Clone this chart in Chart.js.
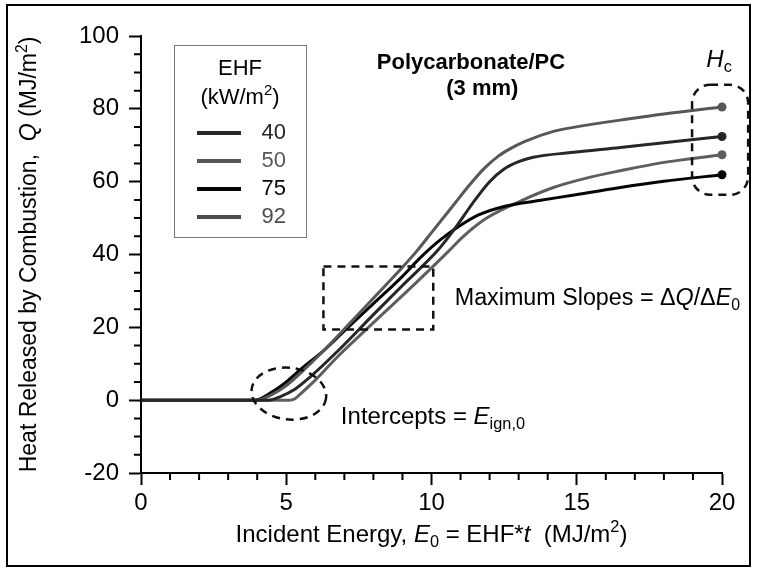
<!DOCTYPE html>
<html lang="en">
<head>
<meta charset="UTF-8">
<title>Polycarbonate/PC - Heat Released vs Incident Energy</title>
<script src="https://cdn.jsdelivr.net/npm/chart.js"></script>
<style>
  html, body { margin: 0; padding: 0; background: #fff; }
  .wrap { position: relative; width: 757px; height: 573px; }
</style>
</head>
<body>
<div class="wrap"><canvas id="heatChart" width="757" height="573"></canvas></div>
<script>
// EHF levels (kW/m2)
const seriesNames = ['40', '50', '75', '92'];
const seriesColors = ['#262626', '#575757', '#050505', '#5e5e5e'];
const legendColors = ['#262626', '#575757', '#050505', '#4c4c4c'];

// E0 (MJ/m2) and Q (MJ/m2)
const e40X = [0, 4.4, 4.8, 5.3, 5.8, 6.8, 8.0, 9.0, 10.2, 10.7, 11.1, 11.5, 12.0, 12.5, 13.0, 13.5, 14.8, 16.5, 18.0, 20];
const e40Q = [0, 0, 1, 3, 6.2, 13.7, 23.5, 31.5, 41, 46, 50.5, 55, 60, 63.5, 65.5, 66.7, 68, 69.4, 70.7, 72.4];

const e50X = [0, 4.0, 4.5, 5.0, 5.5, 6.3, 7.0, 8.0, 9.0, 9.5, 10.0, 10.8, 11.3, 11.8, 12.3, 12.7, 13.2, 14.2, 15.4, 16.5, 18.0, 20];
const e50Q = [0, 0, 1.5, 4.0, 7.5, 13.7, 19.5, 28, 36.5, 41, 46, 54, 59, 63.5, 67, 69, 71, 73.8, 75.6, 76.9, 78.6, 80.5];

const e75X = [0, 3.9, 4.5, 5.0, 5.5, 6.3, 7.0, 8.0, 9.0, 9.6, 10.3, 11.0, 11.6, 12.5, 13.7, 14.8, 16.5, 18.0, 20];
const e75Q = [0, 0, 2.2, 5, 8.5, 13.7, 19, 26.5, 34, 39, 44, 48, 50.8, 53.2, 54.8, 56.2, 58.4, 60.1, 61.9];

const e92X = [0, 5.1, 5.3, 5.5, 6.0, 6.8, 7.5, 8.5, 9.5, 10.6, 11.1, 11.9, 13.1, 14.2, 15.4, 16.5, 18.0, 20];
const e92Q = [0, 0, 0.4, 1.8, 5.5, 12.2, 17.5, 25, 32.5, 41, 45, 50, 54.8, 58.4, 61.1, 63, 65.3, 67.4];

const xTickLabels = [0, 5, 10, 15, 20];
const yTickLabels = [-20, 0, 20, 40, 60, 80, 100];

const FONT = '"Liberation Sans", Arial, Helvetica, sans-serif';

function toPoints(xs, ys) {
    return xs.map((x, i) => ({ x: x, y: ys[i] }));
}

const allX = [e40X, e50X, e75X, e92X];
const allQ = [e40Q, e50Q, e75Q, e92Q];

const datasets = seriesNames.map((name, i) => ({
    label: name,
    data: toPoints(allX[i], allQ[i]),
    borderColor: seriesColors[i],
    backgroundColor: seriesColors[i],
    borderWidth: 3,
    cubicInterpolationMode: 'monotone',
    fill: false,
    clip: false,
    pointRadius: (c) => c.dataIndex === allX[i].length - 1 ? 4.5 : 0,
    pointBorderWidth: 0
}));

// draws a run of text pieces (italic / sub / sup) centered or left aligned
function richText(ctx, parts, x, y, opt) {
    const size = opt.size || 23;
    const bold = opt.bold ? 'bold ' : '';
    const fontOf = (p) => (p.i ? 'italic ' : '') + bold + ((p.sub || p.sup) ? size * 0.68 : size) + 'px ' + FONT;
    let total = 0;
    parts.forEach(p => { ctx.font = fontOf(p); p.w = ctx.measureText(p.t).width; total += p.w; });
    ctx.save();
    ctx.translate(x, y);
    if (opt.rotate) ctx.rotate(opt.rotate);
    let cx = opt.align === 'left' ? 0 : -total / 2;
    ctx.textBaseline = 'middle';
    ctx.textAlign = 'left';
    ctx.fillStyle = opt.color || '#000';
    parts.forEach(p => {
        ctx.font = fontOf(p);
        let dy = 0;
        if (p.sub) dy = size * 0.3;
        if (p.sup) dy = -size * 0.32;
        ctx.fillText(p.t, cx, dy);
        cx += p.w;
    });
    ctx.restore();
}

const decorPlugin = {
    id: 'decor',
    beforeDraw(chart) {
        const ctx = chart.ctx;
        ctx.save();
        ctx.fillStyle = '#fff';
        ctx.fillRect(0, 0, chart.width, chart.height);
        ctx.restore();
    },
    afterDraw(chart) {
        const ctx = chart.ctx;
        const xs = chart.scales.x, ys = chart.scales.y;
        const area = chart.chartArea;
        const px = v => xs.getPixelForValue(v);
        const py = v => ys.getPixelForValue(v);

        ctx.save();
        // outer frame
        ctx.strokeStyle = '#000';
        ctx.lineWidth = 2;
        ctx.strokeRect(7, 5, 743, 561);

        // minor ticks
        ctx.lineWidth = 2;
        ctx.beginPath();
        for (let v = -20; v <= 100; v += 5) {
            if (yTickLabels.includes(v)) continue;
            ctx.moveTo(area.left - 7, py(v));
            ctx.lineTo(area.left, py(v));
        }
        for (let v = 0; v <= 20; v += 1) {
            if (xTickLabels.includes(v)) continue;
            ctx.moveTo(px(v), area.bottom);
            ctx.lineTo(px(v), area.bottom + 7);
        }
        ctx.stroke();

        // dashed call-outs
        ctx.strokeStyle = '#111';
        ctx.lineWidth = 2.5;
        ctx.setLineDash([8, 6]);
        ctx.beginPath();
        ctx.ellipse(px(5.09), py(1.8), Math.abs(px(6.38) - px(5.09)), Math.abs(py(8.9) - py(1.8)), 0.12, 0, Math.PI * 2);
        ctx.stroke();
        ctx.beginPath();
        ctx.rect(px(6.28), py(36.7), px(10.06) - px(6.28), py(19.4) - py(36.7));
        ctx.stroke();
        ctx.beginPath();
        ctx.roundRect(px(18.97), py(86.6), px(20.9) - px(18.97), py(56.4) - py(86.6), 18);
        ctx.stroke();
        ctx.setLineDash([]);

        // legend box
        const lx = 174, ly = 45, lw = 132, lh = 192;
        ctx.strokeStyle = '#777';
        ctx.lineWidth = 1;
        ctx.strokeRect(lx + 0.5, ly + 0.5, lw, lh);
        richText(ctx, [{ t: 'EHF' }], lx + 66, ly + 24, { size: 22 });
        richText(ctx, [{ t: '(kW/m' }, { t: '2', sup: 1 }, { t: ')' }], lx + 66, ly + 53, { size: 22 });
        seriesNames.forEach((name, i) => {
            const ry = ly + 88 + i * 28;
            ctx.strokeStyle = legendColors[i];
            ctx.lineWidth = 4;
            ctx.beginPath();
            ctx.moveTo(lx + 23, ry);
            ctx.lineTo(lx + 67, ry);
            ctx.stroke();
            ctx.font = '22px ' + FONT;
            ctx.fillStyle = legendColors[i];
            ctx.textAlign = 'right';
            ctx.textBaseline = 'middle';
            ctx.fillText(name, lx + 112, ry);
        });
        ctx.restore();

        // titles and notes
        richText(ctx, [{ t: 'Polycarbonate/PC' }], px(11.36), py(92.6), { size: 22, bold: true });
        richText(ctx, [{ t: '(3 mm)' }], px(11.75), py(85.5), { size: 22, bold: true });
        richText(ctx, [{ t: 'H', i: 1 }, { t: 'c', sub: 1 }], px(19.9), py(93.3), { size: 24 });
        richText(ctx, [{ t: 'Maximum Slopes = \u0394' }, { t: 'Q', i: 1 }, { t: '/\u0394' }, { t: 'E', i: 1 }, { t: '0', sub: 1 }],
            px(10.8), py(27.9), { size: 23.3, align: 'left' });
        richText(ctx, [{ t: 'Intercepts = ' }, { t: 'E', i: 1 }, { t: 'ign,0', sub: 1 }],
            px(6.88), py(-4.7), { size: 24, align: 'left' });

        // axis titles
        richText(ctx, [{ t: 'Incident Energy, ' }, { t: 'E', i: 1 }, { t: '0', sub: 1 }, { t: ' = EHF*' }, { t: 't', i: 1 },
            { t: '  (MJ/m' }, { t: '2', sup: 1 }, { t: ')' }], (area.left + area.right) / 2, 535, { size: 24 });
        richText(ctx, [{ t: 'Heat Released by Combustion,  ' }, { t: 'Q', i: 1 }, { t: ' (MJ/m' }, { t: '2', sup: 1 }, { t: ')' }],
            30, (area.top + area.bottom) / 2, { size: 23, rotate: -Math.PI / 2 });
    }
};

const ctx = document.getElementById('heatChart').getContext('2d');
new Chart(ctx, {
    type: 'line',
    data: { datasets: datasets },
    options: {
        responsive: false,
        animation: false,
        events: [],
        layout: { padding: { left: 0, top: 36, right: 35, bottom: 0 } },
        plugins: { legend: { display: false }, tooltip: { enabled: false } },
        scales: {
            x: {
                type: 'linear',
                min: 0, max: 20,
                afterFit: (s) => { s.height = 100; },
                border: { display: true, color: '#000', width: 2 },
                grid: {
                    drawOnChartArea: false,
                    tickLength: 12,
                    tickWidth: 2,
                    tickColor: (c) => xTickLabels.includes(c.tick.value) ? '#000' : 'rgba(0,0,0,0)'
                },
                ticks: {
                    stepSize: 1,
                    autoSkip: false,
                    maxRotation: 0,
                    padding: 4,
                    color: '#000',
                    font: { family: FONT, size: 24 },
                    callback: (v) => xTickLabels.includes(v) ? String(v) : ''
                }
            },
            y: {
                min: -20, max: 100,
                afterFit: (s) => { s.width = 141; },
                border: { display: true, color: '#000', width: 2 },
                grid: {
                    drawOnChartArea: false,
                    tickLength: 12,
                    tickWidth: 2,
                    tickColor: (c) => yTickLabels.includes(c.tick.value) ? '#000' : 'rgba(0,0,0,0)'
                },
                ticks: {
                    stepSize: 5,
                    autoSkip: false,
                    padding: 10,
                    color: '#000',
                    font: { family: FONT, size: 24 },
                    callback: (v) => yTickLabels.includes(v) ? String(v) : ''
                }
            }
        }
    },
    plugins: [decorPlugin]
});
</script>
</body>
</html>
